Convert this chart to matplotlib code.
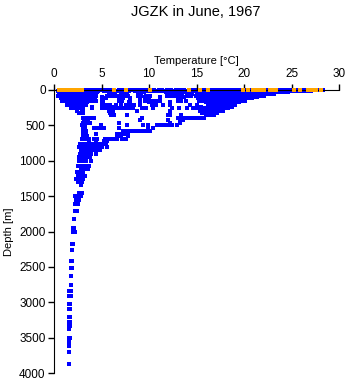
import matplotlib
matplotlib.use("Agg")
import matplotlib.pyplot as plt
import numpy as np

# depth levels [m] and the temperatures [degC] measured at each level (blue)
blue_depths = [0, 8, 20, 35, 55, 80, 100, 120, 150, 175, 205, 235, 260, 300, 330,
               360, 400, 430, 460, 500, 540, 580, 620, 650, 690, 720, 760, 800,
               850, 900, 950, 1000, 1070, 1110, 1160, 1210, 1260, 1300, 1340,
               1450, 1500, 1560, 1610, 1710, 1830, 1945, 2000, 2180, 2260, 2417,
               2510, 2635, 2760, 2840, 2910, 3030, 3090, 3215, 3280, 3330, 3380,
               3510, 3540, 3580, 3620, 3710, 3870]
blue_temps = [
    [3.1, 3.5, 3.9, 4.3, 4.7, 5.1, 5.5, 5.9, 6.8, 7.2, 8.0, 8.4, 8.8, 9.3, 9.7, 10.5, 11.0, 11.4,
     11.9, 12.3, 12.8, 13.3, 13.7, 14.5, 14.9, 15.3, 15.7, 16.0, 16.4, 16.8, 17.2, 17.6, 18.0,
     18.4, 18.8, 19.2, 19.6, 20.0, 20.4, 20.8, 21.2, 21.6, 22.0, 22.4, 22.8, 23.2, 23.6, 24.0,
     24.4, 24.8, 25.2, 25.6, 26.0, 26.4, 26.8, 27.2, 27.6, 28.0, 28.3],
    [3.3, 3.8, 4.6, 5.3, 6.0, 6.6, 7.1, 7.9, 8.6, 9.1, 9.8, 10.6, 11.2, 12.0, 12.6, 13.1, 13.9,
     14.6, 15.0, 15.4, 15.8, 16.2, 16.6, 17.0, 17.4, 17.8, 18.2, 18.6, 19.0, 19.4, 19.8, 20.2,
     20.6, 21.0, 21.4, 21.8, 22.2, 22.6, 23.0, 23.4, 23.8, 24.2, 24.6, 25.0, 25.4, 25.8, 26.2,
     26.6, 27.0],
    [0.4, 0.7, 1.0, 1.3, 1.6, 1.9, 2.2, 2.5, 2.8, 3.1, 3.4, 3.7, 4.0, 4.3, 4.6, 5.3, 5.7, 6.1,
     6.6, 7.0, 7.4, 7.8, 8.5, 8.9, 9.4, 10.0, 10.4, 10.8, 11.5, 11.9, 12.3, 12.7, 13.2, 13.6,
     14.0, 14.4, 14.8, 15.2, 15.6, 16.0, 16.4, 16.8, 17.2, 17.6, 18.0, 18.4, 18.8, 19.2, 19.6,
     20.0, 20.4, 20.8, 21.2, 21.6, 22.0, 22.4, 22.8, 23.2, 23.6, 24.0, 24.4, 24.8, 25.2, 25.6],
    [0.5, 0.9, 1.3, 1.7, 2.1, 2.5, 2.9, 3.3, 3.7, 4.1, 4.5, 5.8, 6.2, 7.0, 7.5, 9.0, 9.5, 11.8,
     12.2, 12.6, 13.5, 13.9, 14.3, 15.0, 15.4, 15.8, 16.2, 16.6, 17.0, 17.4, 17.8, 18.2, 18.6,
     19.0, 19.4, 19.8, 20.2, 20.6, 21.0, 21.4, 21.8, 22.2, 22.6, 23.0, 23.4, 23.8, 24.2, 24.6],
    [0.8, 1.2, 1.6, 2.0, 2.4, 2.8, 3.2, 3.6, 4.0, 4.4, 5.9, 6.4, 7.7, 8.8, 9.2, 12.0, 13.0,
     13.4, 14.5, 15.2, 15.6, 16.0, 16.4, 16.8, 17.2, 17.6, 18.0, 18.4, 18.8, 19.2, 19.6, 20.0,
     20.4, 20.8, 21.2, 21.6, 22.0, 22.4, 22.8, 23.2],
    [0.4, 0.8, 1.2, 1.6, 2.0, 2.4, 2.8, 3.2, 3.6, 4.0, 4.4, 5.6, 5.9, 6.3, 6.7, 7.0, 7.4, 7.8,
     8.8, 9.2, 9.7, 10.1, 11.9, 12.3, 12.7, 13.1, 13.5, 14.0, 14.4, 14.9, 15.3, 15.7, 16.1,
     16.5, 16.9, 17.3, 17.7, 18.1, 18.5, 18.9, 19.3, 19.7, 20.1, 20.5, 20.9, 21.3, 21.7, 22.1],
    [1.0, 1.4, 1.8, 2.2, 2.6, 3.0, 3.4, 3.8, 4.2, 5.1, 6.8, 7.3, 9.6, 11.2, 13.7, 15.4, 15.8,
     16.2, 16.6, 17.0, 17.4, 17.8, 18.2, 18.6, 19.0, 19.4, 19.8, 20.2, 20.6, 21.0, 21.4],
    [0.7, 1.1, 1.5, 1.9, 2.3, 2.7, 3.1, 3.5, 3.9, 4.3, 5.5, 6.9, 7.3, 8.0, 9.1, 10.0, 13.0,
     13.4, 15.2, 15.6, 16.0, 16.4, 16.8, 17.2, 17.6, 18.0, 18.4, 18.8, 19.2, 19.6, 20.0, 20.4,
     20.8],
    [0.8, 1.2, 1.6, 2.0, 2.4, 2.8, 3.2, 3.6, 4.0, 4.4, 5.1, 6.8, 7.2, 8.0, 9.0, 9.6, 10.0, 10.4,
     10.8, 11.2, 13.0, 13.4, 13.9, 15.3, 15.7, 16.1, 16.5, 16.9, 17.3, 17.7, 18.1, 18.5, 18.9,
     19.3, 19.7, 20.1],
    [1.5, 1.9, 2.3, 2.7, 3.1, 3.5, 5.2, 7.9, 10.0, 12.2, 16.0, 16.4, 16.8, 17.2, 17.6, 17.9,
     18.3, 18.7, 19.1, 19.5],
    [1.4, 1.8, 2.2, 2.6, 3.0, 3.4, 5.1, 5.5, 5.9, 6.5, 7.0, 7.6, 8.0, 8.4, 9.0, 10.3, 10.7,
     11.5, 12.2, 14.3, 15.0, 16.2, 16.6, 17.0, 17.4, 17.8, 18.2, 18.6, 19.0],
    [1.8, 2.2, 2.6, 4.0, 6.2, 15.5, 16.3, 16.7, 17.1, 17.5, 17.9, 18.3, 18.7],
    [1.8, 2.2, 2.6, 3.0, 4.0, 5.1, 5.5, 5.9, 6.3, 6.7, 7.1, 7.5, 7.9, 8.3, 9.3, 9.7, 10.4,
     12.4, 13.2, 14.0, 14.6, 15.1, 15.5, 15.9, 16.3, 16.7, 17.1, 17.5, 17.9, 18.3],
    [2.4, 2.9, 3.1, 5.8, 6.2, 8.7, 12.2, 15.4, 15.8, 16.2, 16.6, 17.0, 17.4, 17.8],
    [2.6, 3.0, 5.9, 15.6, 16.0, 16.4, 16.8, 17.2],
    [6.0, 6.3, 7.7, 12.0, 12.2, 13.4, 16.0, 16.4, 16.8],
    [3.0, 3.4, 3.8, 4.2, 9.3, 13.0, 13.4, 13.8, 14.2, 14.6, 15.0, 15.4, 15.8],
    [3.2, 3.6, 9.1, 12.0, 13.3, 13.6],
    [3.1, 3.5, 3.8, 6.8, 12.2, 13.3],
    [2.9, 3.3, 4.9, 7.7, 9.4, 9.9, 10.8, 11.2, 11.6, 12.0, 12.4, 12.9],
    [3.0, 3.3, 4.2, 4.6, 5.0, 5.3, 6.8, 9.9, 10.4],
    [3.0, 3.4, 7.3, 7.7, 8.1, 8.5, 8.9, 9.3, 9.7, 10.1],
    [3.0, 3.4, 4.4, 6.6, 7.0, 7.4, 7.8],
    [3.1, 3.5, 6.6, 7.0, 7.8],
    [2.9, 3.3, 3.7, 4.2, 4.5, 5.4, 5.8, 6.2, 6.6, 7.2, 7.6],
    [3.7, 4.4, 5.3, 5.6],
    [2.7, 3.1, 3.5, 3.9, 4.3, 4.7, 5.1, 5.5],
    [2.6, 3.0, 3.4, 3.8, 4.2, 4.6, 5.1, 5.6],
    [2.8, 3.2, 3.6, 4.0, 4.4, 4.8],
    [2.7, 3.1, 3.5, 3.9, 4.4],
    [2.6, 3.0, 3.4, 3.8],
    [2.6, 3.0, 3.4, 3.9],
    [2.5, 2.9, 3.3, 3.7],
    [2.8, 3.2, 3.6],
    [2.4, 2.8, 3.1],
    [2.5, 2.9, 3.3],
    [2.3, 2.7, 3.1],
    [2.5, 2.9],
    [2.8],
    [2.6, 2.9],
    [2.2, 2.5, 2.8],
    [2.3, 2.6],
    [2.2, 2.5],
    [2.2, 2.4],
    [2.15],
    [1.95, 2.15],
    [1.95, 2.2],
    [1.9, 2.0],
    [1.9],
    [1.75, 1.9],
    [1.8, 1.9],
    [1.75],
    [1.75],
    [1.6, 1.8],
    [1.6, 1.75],
    [1.6, 1.7],
    [1.6, 1.7],
    [1.6, 1.7],
    [1.6, 1.7],
    [1.6, 1.7],
    [1.55],
    [1.55, 1.7],
    [1.6],
    [1.6],
    [1.6],
    [1.55],
    [1.55],
]

# surface samples (orange), all at the very top
orange_temps = [0.5, 0.8, 1.1, 1.4, 1.7, 2.0, 2.3, 2.6, 2.9, 6.3, 7.6, 10.1, 14.2, 15.4, 16.2,
                19.9, 20.4, 20.9, 21.3, 21.6, 21.9, 22.1, 22.7, 23.0, 23.4, 25.3, 25.9, 26.7,
                27.0, 27.3, 27.6, 28.1]
orange_depths = [5, 5, 5, 5, 5, 5, 5, 5, 5, 5, 5, 5, 5, 5, 5,
                 5, 5, 5, 5, 5, 5, 5, 5, 5, 5, 5, 5, 5,
                 5, 5, 5, 5]

x_ticks = [0, 5, 10, 15, 20, 25, 30]
y_ticks = [0, 500, 1000, 1500, 2000, 2500, 3000, 3500, 4000]


def plot():
    plt.rcParams['font.family'] = ['Liberation Sans', 'DejaVu Sans']

    # flatten the levels
    bx = []
    by = []
    for d, row in zip(blue_depths, blue_temps):
        for t in row:
            bx.append(t)
            by.append(d)

    fig = plt.figure(figsize=(3.48, 3.84), dpi=100)
    ax = fig.add_axes([54 / 348, 1 - 373 / 384, 285 / 348, 283 / 384])

    # crisp little squares, no antialiasing (like the original)
    ax.scatter(bx, by, s=5.5, marker="s", color="#0000ff", linewidths=0,
               antialiased=False, clip_on=False)
    ax.scatter(orange_temps, orange_depths, s=5.5, marker="s", color="#ffa500",
               linewidths=0, antialiased=False, clip_on=False, zorder=3)

    ax.set_xlim(0, 30)
    ax.set_ylim(4000, 0)

    # R-like axes: only top and left
    ax.spines["right"].set_visible(False)
    ax.spines["bottom"].set_visible(False)
    ax.xaxis.tick_top()
    ax.xaxis.set_label_position("top")
    ax.set_xticks(x_ticks)
    ax.set_yticks(y_ticks)
    ax.tick_params(axis="both", direction="out", length=4, width=1, labelsize=8.5, pad=2)
    ax.tick_params(axis="x", pad=3)

    ax.set_xlabel("Temperature [°C]", fontsize=8, labelpad=3)
    ax.set_ylabel("Depth [m]", fontsize=8, labelpad=4)
    fig.text(196 / 348, 1 - 12 / 384, "JGZK in June, 1967", ha="center", va="center", fontsize=10.5)

    fig.savefig("out.png", dpi=100)


if __name__ == "__main__":
    plot()
